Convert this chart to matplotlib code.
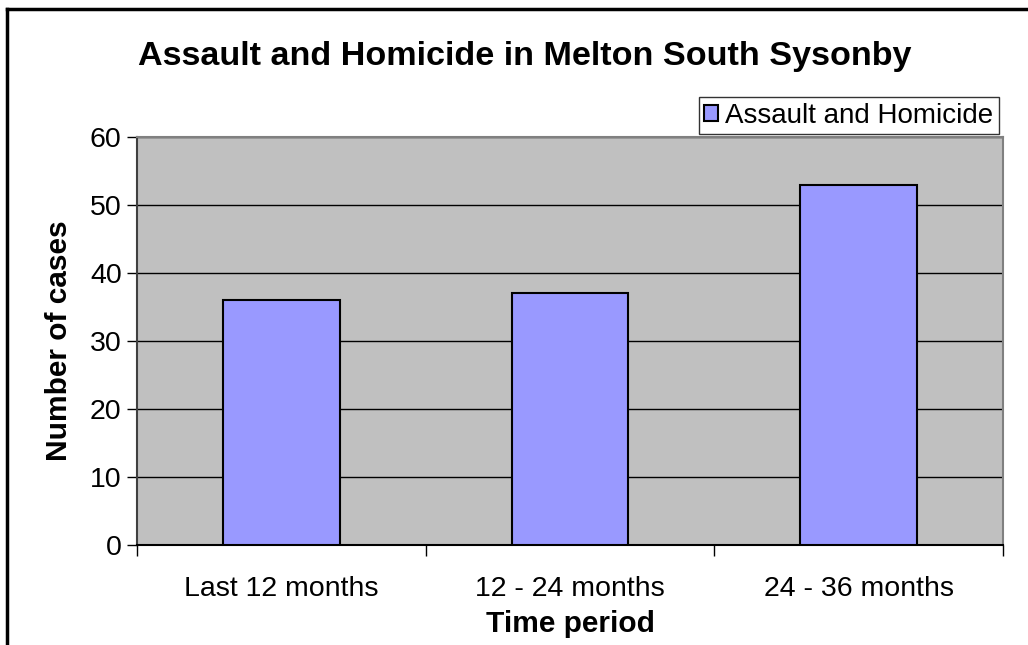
import matplotlib
matplotlib.use("Agg")
import matplotlib.pyplot as plt
from matplotlib.lines import Line2D

plt.rcParams['font.family'] = ['Liberation Sans', 'DejaVu Sans']

# data
categories = ["Last 12 months", "12 - 24 months", "24 - 36 months"]
cases = [36, 37, 53]
series_name = "Assault and Homicide"

fig = plt.figure(figsize=(10.28, 6.45), dpi=100)
ax = fig.add_axes([137 / 1028, 100 / 645, 866 / 1028, 408 / 645])

ax.set_facecolor("#C0C0C0")
x = range(len(categories))
ax.bar(x, cases, width=0.405, color="#9999FF", edgecolor="black", linewidth=1.5,
       label=series_name, zorder=3)

ax.set_xlim(-0.5, len(categories) - 0.5)
ax.set_ylim(0, 60)
ax.set_yticks(range(0, 61, 10))
ax.yaxis.grid(True, color="black", linewidth=1, zorder=1)
ax.set_axisbelow(True)

# category labels in the middle, ticks on the boundaries
ax.set_xticks(list(x))
ax.set_xticklabels(categories, fontsize=20.5)
ax.set_xticks([i - 0.5 for i in range(len(categories) + 1)], minor=True)
ax.tick_params(axis="x", which="major", length=0, pad=22)
ax.tick_params(axis="x", which="minor", length=8, width=1, color="black")
ax.tick_params(axis="y", labelsize=20.5, length=7, width=1, pad=4)

for side in ["top", "right"]:
    ax.spines[side].set_color("#808080")
    ax.spines[side].set_linewidth(1.5)
ax.spines["left"].set_color("#404040")
ax.spines["bottom"].set_color("black")
ax.spines["left"].set_linewidth(1.5)
ax.spines["bottom"].set_linewidth(1.5)

ax.set_xlabel("Time period", fontsize=21.5, fontweight="bold", labelpad=6)
ax.set_ylabel("Number of cases", fontsize=21.5, fontweight="bold", labelpad=12)

fig.text(525 / 1028, 1 - 56 / 645, "Assault and Homicide in Melton South Sysonby",
         ha="center", va="center", fontsize=24.6, fontweight="bold")

leg = ax.legend(loc="upper right", bbox_to_anchor=(999 / 1028, 1 - 97 / 645),
                bbox_transform=fig.transFigure, fontsize=20, frameon=True,
                fancybox=False, shadow=False, handlelength=0.5, handleheight=0.5,
                handletextpad=0.25, borderpad=0.2, borderaxespad=0)
leg.get_frame().set_edgecolor("black")
leg.get_frame().set_linewidth(1)
leg.set_zorder(10)

# chart area border (left and top only visible)
fig.add_artist(Line2D([7 / 1028, 7 / 1028], [0, 1 - 9 / 645], color="black",
                      linewidth=2.5, transform=fig.transFigure))
fig.add_artist(Line2D([7 / 1028, 1], [1 - 9 / 645, 1 - 9 / 645], color="black",
                      linewidth=2.5, transform=fig.transFigure))

fig.savefig("out.png", dpi=100)
